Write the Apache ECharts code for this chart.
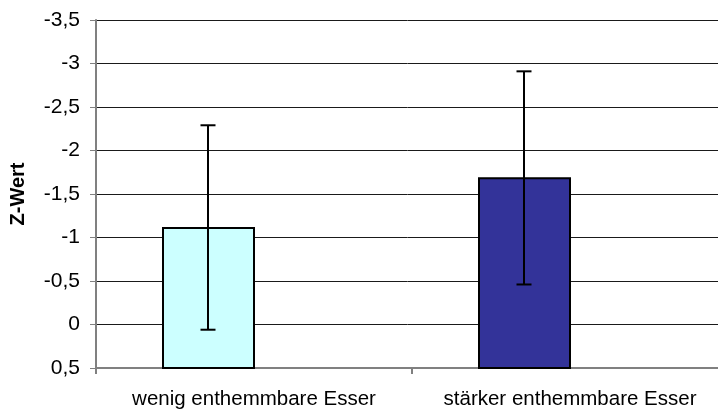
<!DOCTYPE html>
<html>
<head>
<meta charset="utf-8">
<script src="https://cdn.jsdelivr.net/npm/echarts@6/dist/echarts.min.js"></script>
<style>
html,body{margin:0;padding:0;background:#fff;}
#chart{width:718px;height:412px;}
</style>
</head>
<body>
<div id="chart"></div>
<script>
const categories = ['wenig enthemmbare Esser', 'stärker enthemmbare Esser'];
const means = [-1.11, -1.68];
const errUpper = [-2.29, -2.91];
const errLower = [0.06, -0.46];
const barColors = ['#CCFFFF', '#333399'];
const yTicks = { min: -3.5, max: 0.5, interval: 0.5 };

const chart = echarts.init(document.getElementById('chart'));
const FONT = 'Liberation Sans, Arial, sans-serif';

const barData = categories.map((c, i) => [i, means[i]]);
const errData = categories.map((c, i) => [i, errUpper[i], errLower[i]]);

chart.setOption({
  animation: false,
  backgroundColor: '#fff',
  grid: { left: 96, top: 20, width: 632, height: 348, outerBoundsMode: 'none', containLabel: false },
  xAxis: {
    type: 'category',
    data: categories,
    boundaryGap: true,
    axisLine: { onZero: false, lineStyle: { color: '#808080', width: 2 } },
    axisTick: { show: true, interval: 0, length: 6, lineStyle: { color: '#808080', width: 2 } },
    axisLabel: { interval: 0, hideOverlap: false, color: '#000', fontFamily: FONT, fontSize: 20.5, margin: 21 },
    splitLine: { show: false }
  },
  yAxis: {
    type: 'value',
    inverse: true,
    min: yTicks.min,
    max: yTicks.max,
    interval: yTicks.interval,
    name: 'Z-Wert',
    nameLocation: 'middle',
    nameGap: 68,
    nameRotate: 90,
    nameTextStyle: { color: '#000', fontFamily: FONT, fontSize: 20, fontWeight: 'bold' },
    axisLine: { show: true, lineStyle: { color: '#808080', width: 2 } },
    axisTick: { show: true, length: 6, lineStyle: { color: '#808080', width: 1 } },
    axisLabel: {
      color: '#000', fontFamily: FONT, fontSize: 21, margin: 16,
      formatter: v => String(Math.round(v * 10) / 10).replace('.', ',')
    },
    splitLine: { show: true, lineStyle: { color: '#1a1a1a', width: 1 } }
  },
  series: [
    {
      type: 'custom',
      data: barData,
      encode: { x: 0, y: 1 },
      renderItem: function (params, api) {
        const cat = api.value(0);
        const v = api.value(1);
        const band = api.size([1, 0])[0];
        const w = band * 0.288;
        const top = api.coord([cat, v]);
        const base = api.coord([cat, yTicks.max]);
        const cx = top[0] - band * 0.144;
        return {
          type: 'rect',
          shape: { x: Math.round(cx - w / 2), y: top[1], width: Math.round(w), height: base[1] - top[1] },
          style: { fill: barColors[params.dataIndex], stroke: '#000', lineWidth: 2 }
        };
      },
      z: 3
    },
    {
      type: 'custom',
      data: errData,
      encode: { x: 0, y: [1, 2] },
      renderItem: function (params, api) {
        const cat = api.value(0);
        const band = api.size([1, 0])[0];
        const p1 = api.coord([cat, api.value(1)]);
        const p2 = api.coord([cat, api.value(2)]);
        const cx = Math.round(p1[0] - band * 0.144);
        const cap = 7.5;
        const st = { stroke: '#000', lineWidth: 2 };
        return {
          type: 'group',
          children: [
            { type: 'line', shape: { x1: cx, y1: p1[1], x2: cx, y2: p2[1] }, style: st },
            { type: 'line', shape: { x1: cx - cap, y1: p1[1], x2: cx + cap, y2: p1[1] }, style: st },
            { type: 'line', shape: { x1: cx - cap, y1: p2[1], x2: cx + cap, y2: p2[1] }, style: st }
          ]
        };
      },
      z: 4
    }
  ]
});
</script>
</body>
</html>
